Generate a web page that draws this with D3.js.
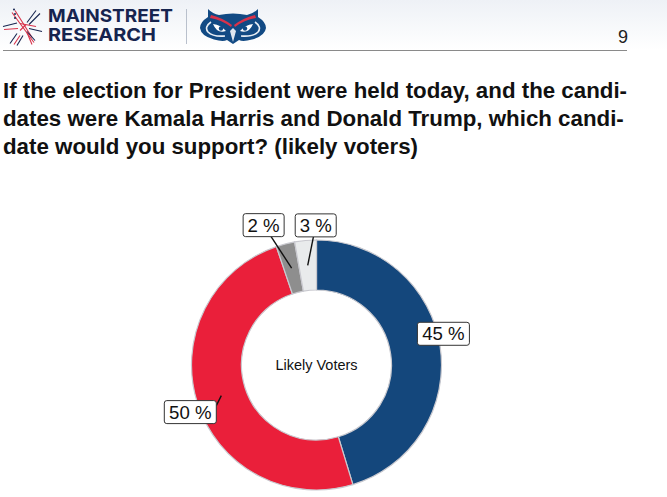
<!DOCTYPE html>
<html><head><meta charset="utf-8">
<script src="https://cdn.jsdelivr.net/npm/d3@7"></script>
<style>html,body{margin:0;padding:0;background:#fff}svg{display:block;font-family:"Liberation Sans",Arial,sans-serif}</style>
</head><body><div id="c"></div>
<script>
const categories = ["Kamala Harris","Donald Trump","Other","Undecided"];
const values = [45.3,49.5,2.4,2.8];
const colors = ["#14477c","#ea1f3a","#8e8e8e","#e9ebec"];
const titleLines = ["If the election for President were held today, and the candi-","dates were Kamala Harris and Donald Trump, which candi-","date would you support? (likely voters)"];
const centerLabel = "Likely Voters";
const pageNumber = "9";
const labelOffsets = [[28,-16.5],[-31,16.5],[-28,-43],[8,-40]];
const leaderOffsets = [[0,0],[-5,10],[-28,-43],[8,-40]];

const W=667,H=497,cx=316.5,cy=365,R=125,r=75;
const svg=d3.select("#c").append("svg").attr("width",W).attr("height",H);
const defs=svg.append("defs");
const g=defs.append("linearGradient").attr("id","hd").attr("x1",0).attr("x2",0).attr("y1",0).attr("y2",1);
g.append("stop").attr("offset",0).attr("stop-color","#eef1f6");
g.append("stop").attr("offset",1).attr("stop-color","#ffffff");
svg.append("rect").attr("width",W).attr("height",50).attr("fill","url(#hd)");
svg.append("line").attr("x1",3).attr("x2",627).attr("y1",50.5).attr("y2",50.5).attr("stroke","#8a8a8a").attr("stroke-width",1);

// logo mark
const navy="#16244f",red="#d8324a";
const m=svg.append("g").attr("transform","translate(23,27.5)");
[[-20,-1,-6,-4.5,navy],[-19,2,-5,1,red],[-6,6,-13,16,navy],[-3,8,-9,17,red],[0,8,-6,18,navy],
 [4,-5,13,-17,navy],[6,-3,17,-14,navy],[-11,-15,11,15,red],[-8,-17,9,10,red],[-3,-4,13,-1,red],
 [6,1,19,4,navy],[4,4,12,13,navy],[-3,3,3,-3,red],[4,5,9,17,red]].forEach(d=>{
 m.append("line").attr("x1",d[0]).attr("y1",d[1]).attr("x2",d[2]).attr("y2",d[3]).attr("stroke",d[4]).attr("stroke-width",1.1);
});
m.selectAll("circle").data([[-9,-18],[-8,-13.5],[-8,-9.5]]).join("circle").attr("cx",d=>d[0]).attr("cy",d=>d[1]).attr("r",1).attr("fill",navy);
svg.append("text").attr("x",48).attr("y",21.5).attr("textLength",125).attr("lengthAdjust","spacingAndGlyphs").attr("fill",navy).style("font-family","Inter").style("font-weight",700).style("font-size","18px").text("MAINSTREET");
svg.append("text").attr("x",48).attr("y",41).attr("textLength",108).attr("lengthAdjust","spacingAndGlyphs").attr("fill",navy).style("font-family","Inter").style("font-weight",700).style("font-size","18px").text("RESEARCH");
svg.append("line").attr("x1",186.5).attr("x2",186.5).attr("y1",9).attr("y2",44).attr("stroke","#b9c0cc");

// owl
const o=svg.append("g").attr("transform","translate(233,27)");
o.append("path").attr("d","M-25,-18 Q-20,-13 -14,-12 Q0,-15 14,-12 Q20,-13 25,-18 L25,-10 Q33,-5 33,1 Q32,9 19,12.5 Q10,15 6,13 L0,17 L-6,13 Q-10,15 -19,12.5 Q-32,9 -33,1 Q-33,-5 -25,-10 Z").attr("fill","#124a84");
o.append("path").attr("d","M-22,-12 Q-10,-9 -1,-2 L-2,0 Q-11,-7 -23,-9 Z M22,-12 Q10,-9 1,-2 L2,0 Q11,-7 23,-9 Z").attr("fill","#d8324a");
o.append("path").attr("d","M-22,-5 Q-29,0 -25,5 Q-20,10 -8,9 M22,-5 Q29,0 25,5 Q20,10 8,9").attr("fill","none").attr("stroke","#e8eef5").attr("stroke-width",1.6);
o.append("path").attr("d","M-20,-3 Q-12,-2 -7,4 Q-16,7 -20,-3 Z M20,-3 Q12,-2 7,4 Q16,7 20,-3 Z").attr("fill","#fff");
o.append("circle").attr("cx",-12).attr("cy",1.5).attr("r",2.2).attr("fill","#124a84");
o.append("circle").attr("cx",12).attr("cy",1.5).attr("r",2.2).attr("fill","#124a84");
o.append("path").attr("d","M-3,4 L0,1 L3,4 L0,15 Z").attr("fill","#dfe6ef");

svg.append("text").attr("x",628).attr("y",43).attr("text-anchor","end").attr("fill","#222").style("font-size","18px").text(pageNumber);

// title
svg.append("g").selectAll("text").data(titleLines).join("text")
 .attr("x",3).attr("y",(d,i)=>98+i*28.2).attr("fill","#111").style("font-weight","bold").style("font-size","22.3px").text(d=>d);

// donut
const pie=d3.pie().sort(null).value(d=>d)(values);
const arc=d3.arc().innerRadius(r).outerRadius(R);
const ch=svg.append("g").attr("transform",`translate(${cx},${cy})`);
ch.selectAll("path").data(pie).join("path").attr("d",arc).attr("fill",(d,i)=>colors[i]).attr("stroke","#c9c9cf").attr("stroke-width",1.2);
ch.append("text").attr("text-anchor","middle").attr("y",5).attr("fill","#111").style("font-size","14.5px").text(centerLabel);

const lab=ch.selectAll("g.l").data(pie).join("g").attr("class","l");
lab.append("line").each(function(d,i){const c=arc.centroid(d);d3.select(this).attr("x1",c[0]).attr("y1",c[1]).attr("x2",c[0]+leaderOffsets[i][0]).attr("y2",c[1]+leaderOffsets[i][1]);}).attr("stroke","#111").attr("stroke-width",1.4);
lab.each(function(d,i){
 const c=arc.centroid(d),x=c[0]+labelOffsets[i][0],y=c[1]+labelOffsets[i][1],s=d3.select(this);
 const t=`${Math.round(d.value)} %`,w=d.value>=10?52:41,h=23;
 s.append("rect").attr("x",x-w/2).attr("y",y-h/2).attr("width",w).attr("height",h).attr("rx",2.5).attr("fill","#fff").attr("stroke","#333").attr("stroke-width",1);
 s.append("text").attr("x",x).attr("y",y+6.5).attr("text-anchor","middle").attr("fill","#111").style("font-size","18.6px").text(t);
});
</script></body></html>
